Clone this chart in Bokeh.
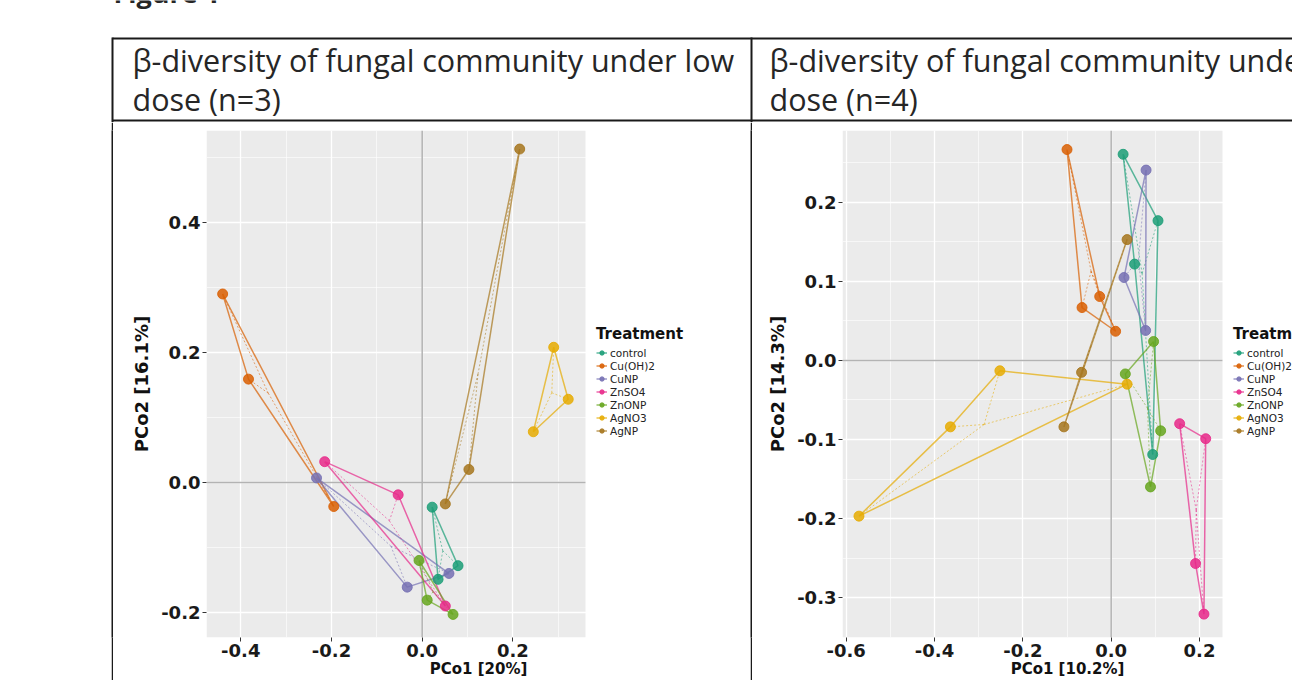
from bokeh.plotting import figure
from bokeh.layouts import row, column, Spacer
from bokeh.models import (Range1d, FixedTicker, Legend, LegendItem, PrintfTickFormatter)
from bokeh.embed import file_html
from bokeh.resources import INLINE
from bokeh.core.properties import value

# ---------------- data ----------------
treatments = ["control", "Cu(OH)2", "CuNP", "ZnSO4", "ZnONP", "AgNO3", "AgNP"]
palette = ["#1B9E77", "#D95F02", "#7570B3", "#E7298A", "#66A61E", "#E6AB02", "#A6761D"]

header_low = ["β-diversity of fungal community under low", "dose (n=3)"]
header_high = ["β-diversity of fungal community under high", "dose (n=4)"]

# low dose (n=3)
low_pc1 = {
    "control": [0.022, 0.079, 0.035],
    "Cu(OH)2": [-0.440, -0.383, -0.195],
    "CuNP": [-0.233, -0.033, 0.059],
    "ZnSO4": [-0.215, -0.053, 0.051],
    "ZnONP": [-0.007, 0.011, 0.068],
    "AgNO3": [0.290, 0.322, 0.245],
    "AgNP": [0.215, 0.103, 0.051],
}
low_pc2 = {
    "control": [-0.038, -0.128, -0.149],
    "Cu(OH)2": [0.290, 0.159, -0.037],
    "CuNP": [0.007, -0.161, -0.140],
    "ZnSO4": [0.032, -0.019, -0.190],
    "ZnONP": [-0.120, -0.181, -0.203],
    "AgNO3": [0.208, 0.128, 0.078],
    "AgNP": [0.513, 0.020, -0.033],
}

# high dose (n=4)
high_pc1 = {
    "control": [0.027, 0.106, 0.094, 0.053],
    "Cu(OH)2": [-0.100, -0.066, 0.010, -0.026],
    "CuNP": [0.079, 0.029, 0.078],
    "ZnSO4": [0.155, 0.214, 0.210, 0.191],
    "ZnONP": [0.096, 0.112, 0.089, 0.032],
    "AgNO3": [-0.571, -0.364, -0.252, 0.036],
    "AgNP": [0.036, -0.067, -0.107],
}
high_pc2 = {
    "control": [0.261, 0.177, -0.119, 0.122],
    "Cu(OH)2": [0.267, 0.067, 0.037, 0.081],
    "CuNP": [0.241, 0.105, 0.038],
    "ZnSO4": [-0.080, -0.099, -0.321, -0.257],
    "ZnONP": [0.024, -0.089, -0.160, -0.017],
    "AgNO3": [-0.197, -0.084, -0.013, -0.030],
    "AgNP": [0.153, -0.015, -0.084],
}

low_xticks = [-0.4, -0.2, 0.0, 0.2]
low_xminor = [-0.3, -0.1, 0.1, 0.3]
low_yticks = [-0.2, 0.0, 0.2, 0.4]
low_yminor = [-0.1, 0.1, 0.3, 0.5]
high_xticks = [-0.6, -0.4, -0.2, 0.0, 0.2]
high_xminor = [-0.5, -0.3, -0.1, 0.1]
high_yticks = [-0.3, -0.2, -0.1, 0.0, 0.1, 0.2]
high_yminor = [-0.25, -0.15, -0.05, 0.05, 0.15, 0.25]

# ---------------- layout constants ----------------
W = 1292
HDR_H = 122
ROW_H = 680 - HDR_H
GG_FONT = "DejaVu Sans"
HDR_FONT = "Open Sans"
LINE_C = "#1a1a1a"
TOP_B = 8
BOT_B = 43


def blank(width, height):
    f = figure(width=width, height=height, x_range=Range1d(0, width),
               y_range=Range1d(height, 0), output_backend="svg",
               toolbar_location=None, min_border=0, x_axis_location=None,
               y_axis_location=None, outline_line_color=None)
    f.grid.visible = False
    return f


# header row (table top)
hdr = blank(W, HDR_H)
hdr.segment(x0=[112, 112, 112, 751], y0=[38, 120, 37, 37],
            x1=[W, W, 112, 751], y1=[38, 120, HDR_H, HDR_H],
            line_color=LINE_C, line_width=2)
hdr.text(x=[132, 132, 769, 769], y=[59, 98, 59, 98],
         text=header_low + header_high, text_font=value(HDR_FONT),
         text_font_size="30.5px", text_color="#262626", text_baseline="alphabetic")
hdr.text(x=[113], y=[-8], text=["Figure 1"], text_font=value(HDR_FONT),
         text_font_size="27px", text_font_style="bold", text_color="#262626",
         text_baseline="alphabetic")


def vline():
    f = blank(2, ROW_H)
    f.background_fill_color = LINE_C
    f.border_fill_color = LINE_C
    return f


def panel(pc1, pc2, xr, x_panel_right, yr, xt, xm, yt, ym, xlab, ylab, width, bl, leg_x):
    p = figure(width=width, height=ROW_H, x_range=Range1d(*xr), y_range=Range1d(*yr),
               output_backend="svg", toolbar_location=None,
               min_border_left=bl, min_border_right=0, min_border_top=TOP_B,
               min_border_bottom=BOT_B)
    p.background_fill_color = "white"
    p.border_fill_color = "white"
    p.outline_line_color = None

    # ggplot grey panel
    p.quad(left=[xr[0]], right=[x_panel_right], bottom=[yr[0]], top=[yr[1]],
           fill_color="#EBEBEB", line_color=None, level="image")

    p.xaxis.ticker = FixedTicker(ticks=xt, minor_ticks=xm)
    p.yaxis.ticker = FixedTicker(ticks=yt, minor_ticks=ym)
    for ax in (p.xaxis, p.yaxis):
        ax.formatter = PrintfTickFormatter(format="%.1f")
        ax.axis_line_color = None
        ax.major_tick_line_color = "#333333"
        ax.major_tick_out = 4
        ax.major_tick_in = 0
        ax.minor_tick_line_color = None
        ax.major_label_text_font = GG_FONT
        ax.major_label_text_font_style = "bold"
        ax.major_label_text_font_size = "18px"
        ax.major_label_text_color = "#1a1a1a"
        ax.major_label_standoff = 2
        ax.axis_label_text_font = GG_FONT
        ax.axis_label_text_font_style = "bold"
        ax.axis_label_text_color = "#111111"
    p.yaxis.axis_label = ylab
    p.yaxis.axis_label_text_font_size = "18px"
    p.yaxis.axis_label_standoff = 6
    p.xaxis.axis_label = xlab
    p.xaxis.axis_label_text_font_size = "15px"
    p.xaxis.axis_label_standoff = 0

    for g in (p.xgrid, p.ygrid):
        g.grid_line_color = "white"
        g.grid_line_width = 1.3
        g.minor_grid_line_color = "white"
        g.minor_grid_line_width = 0.6

    # zero reference lines, limited to the panel
    p.segment(x0=[xr[0], 0], y0=[0, yr[0]], x1=[x_panel_right, 0], y1=[0, yr[1]],
              line_color="#b3b3b3", line_width=1.5)

    items = []
    line_rs = {}
    for t, c in zip(treatments, palette):
        xs, ys = pc1[t], pc2[t]
        cx = sum(xs) / len(xs)
        cy = sum(ys) / len(ys)
        # dotted spider lines to the group centroid
        p.segment(x0=[cx] * len(xs), y0=[cy] * len(ys), x1=xs, y1=ys,
                  line_color=c, line_alpha=0.55, line_width=1, line_dash="2 2")
        # solid closed outline
        line_rs[t] = p.line(x=xs + xs[:1], y=ys + ys[:1], line_color=c,
                            line_alpha=0.7, line_width=1.5)
    for t, c in zip(treatments, palette):
        pr = p.scatter(x=pc1[t], y=pc2[t], size=10, fill_color=c, line_color=c,
                       fill_alpha=0.85, line_alpha=0.85)
        items.append(LegendItem(label=t, renderers=[line_rs[t], pr]))

    leg = Legend(items=items, location=(leg_x, 200), title="Treatment",
                 title_text_font=GG_FONT, title_text_font_style="bold",
                 title_text_font_size="15px", title_text_color="#111111",
                 title_standoff=3, label_text_font=GG_FONT,
                 label_text_font_size="10.5px", label_text_color="#222222",
                 glyph_width=11, glyph_height=13, label_height=13, spacing=0,
                 padding=2, margin=0, label_standoff=3,
                 border_line_color=None, background_fill_alpha=0)
    p.add_layout(leg)
    return p


# left panel: frame from x=206 to 750 px, grey panel ends at x=585 px
left = panel(low_pc1, low_pc2, (-0.4756, 0.7239), 0.3601, (-0.2385, 0.5415),
             low_xticks, low_xminor, low_yticks, low_yminor,
             "PCo1 [20%]", "PCo2 [16.1%]", 637, 93, 390)
# right panel: frame from x=842 to 1292 px, grey panel ends at x=1222 px
right = panel(high_pc1, high_pc2, (-0.6083, 0.4105), 0.2520, (-0.3506, 0.2911),
              high_xticks, high_xminor, high_yticks, high_yminor,
              "PCo1 [10.2%]", "PCo2 [14.3%]", 540, 90, 391)

layout = column(hdr, row(Spacer(width=111, height=ROW_H), vline(), left, vline(), right))
open("out.html", "w").write(file_html(layout, INLINE))
